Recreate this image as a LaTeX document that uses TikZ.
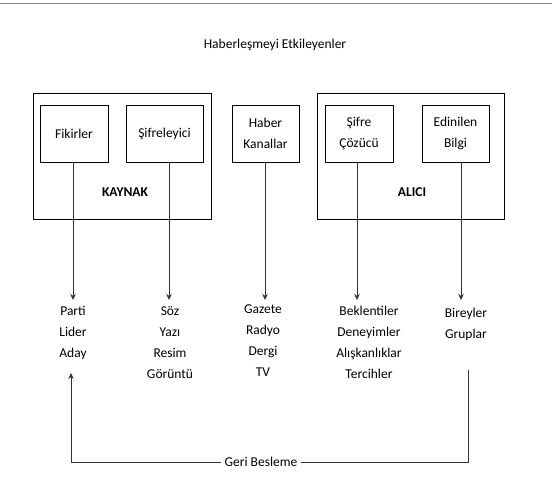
\documentclass[tikz,border=0pt]{standalone}
\usepackage{fontspec}
\setmainfont{Carlito}
\usetikzlibrary{arrows.meta}
\begin{document}
\begin{tikzpicture}[x=1pt,y=-1pt,
  every node/.style={font=\fontsize{13.5}{21}\selectfont, text=black},
  outerbox/.style={draw=black, line width=0.9pt},
  innerbox/.style={draw=black, line width=0.7pt, align=center, minimum height=57pt, inner sep=0pt},
  listtxt/.style={align=center, anchor=north, inner sep=0pt},
  conn/.style={draw=black!80, line width=0.6pt},
  arr/.style={conn, -{Stealth[length=6pt,width=5.5pt]}}]
\useasboundingbox (0,0) rectangle (552,484);
% top rule
\draw[black!50, line width=1pt] (0,4) -- (552,4);
\node (title) at (275,45) {Haberleşmeyi Etkileyenler};
% outer boxes
\node[outerbox, minimum width=178pt, minimum height=126pt, inner sep=0pt] (kaynak) at (122,156) {};
\node[outerbox, minimum width=187pt, minimum height=126pt, inner sep=0pt] (alici) at (410.5,156) {};
\node[font=\fontsize{13.5}{21}\selectfont\bfseries] (kaynakt) at (125,192) {KAYNAK};
\node[font=\fontsize{13.5}{21}\selectfont\bfseries] (alicit) at (412,192) {ALICI};
% inner boxes
\node[innerbox, minimum width=68pt] (fik) at (74,133.5) {Fikirler};
\node[innerbox, minimum width=77pt] (sif) at (164.5,133.5) {Şifreleyici};
\node[innerbox, minimum width=67pt] (hab) at (265.5,133.5) {Haber\\Kanallar};
\node[innerbox, minimum width=68pt] (coz) at (359,133.5) {Şifre\\Çözücü};
\node[innerbox, minimum width=67pt] (edi) at (455.5,133.5) {Edinilen\\Bilgi};
% lists
\node[listtxt] (l1) at (73,306) {Parti\\Lider\\Aday};
\node[listtxt] (l2) at (170,306) {Söz\\Yazı\\Resim\\Görüntü};
\node[listtxt] (l3) at (263,305) {Gazete\\Radyo\\Dergi\\TV};
\node[listtxt] (l4) at (369,306) {Beklentiler\\Deneyimler\\Alışkanlıklar\\Tercihler};
\node[listtxt] (l5) at (466,308) {Bireyler\\Gruplar};
% arrow end points
\coordinate (a1) at (73,300);
\coordinate (a2) at (169,300);
\coordinate (a3) at (265,300);
\coordinate (a4) at (357,300);
\coordinate (a5) at (461,300);
\draw[arr] (fik.south -| a1) -- (a1);
\draw[arr] (sif.south -| a2) -- (a2);
\draw[arr] (hab.south -| a3) -- (a3);
\draw[arr] (coz.south -| a4) -- (a4);
\draw[arr] (edi.south -| a5) -- (a5);
% feedback
\coordinate (fbR) at (468,370);
\coordinate (fbL) at (71,373);
\node[inner sep=3pt] (geri) at (261,462) {Geri Besleme};
\draw[conn] (fbR) |- (geri.east);
\draw[arr] (geri.west) -| (fbL);
\end{tikzpicture}
\end{document}
